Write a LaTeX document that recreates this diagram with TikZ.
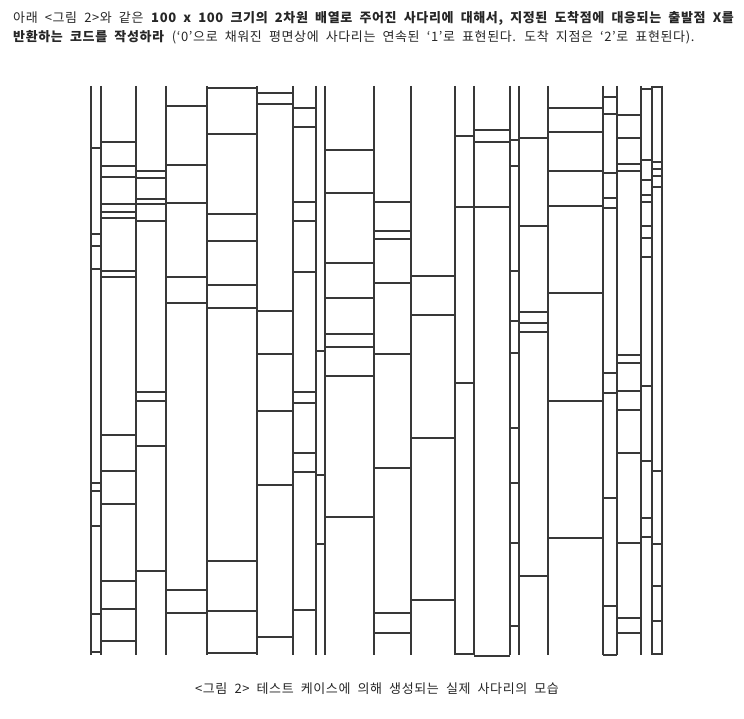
\documentclass[tikz,border=0pt]{standalone}
\usepackage{fontspec}
\setmainfont{Noto Sans CJK KR}[WordSpace=2,LetterSpace=4.8]

\begin{document}
\begin{tikzpicture}[x=1pt,y=-1pt,
  rail/.style={draw=black!78,line width=1.6pt},
  rung/.style={draw=black!78,line width=1.6pt},
  textline/.style={font=\fontsize{13}{15}\selectfont,text=black!85,anchor=base west,inner sep=0pt}]
  \useasboundingbox (0,0) rectangle (744,719);
  % question text
  \node[textline] (line1) at (13,23) {아래 <그림 2>와 같은 \textbf{100 x 100 크기의 2차원 배열로 주어진 사다리에 대해서, 지정된 도착점에 대응되는 출발점 X를}};
  \node[textline] (line2) at (13,42) {\textbf{반환하는 코드를 작성하라} (‘0’으로 채워진 평면상에 사다리는 연속된 ‘1’로 표현된다. 도착 지점은 ‘2’로 표현된다).};
  % rails
  \foreach \x in {91,101,136,166,207,257,293,316,325,374,411,455,474,510,519,548,603,617,641,652,662}
    \draw[rail] (\x,86) -- (\x,655);
  % rungs, gap by gap
  \foreach \l/\r/\ys in {
      91/101/{148,234,246,269,483,491,526,614,652},
      101/136/{142,166,177,204,212,218,271,277,435,471,504,581,609,641},
      136/166/{171,178,199,204,221,392,401,446,571},
      166/207/{106,165,203,277,303,590,613},
      207/257/{88,134,214,241,285,308,561,611,653},
      257/293/{93,104,311,354,411,485,637},
      293/316/{108,127,202,221,272,392,403,453,472,610},
      316/325/{351,475,544},
      325/374/{150,193,263,298,334,347,376,517},
      374/411/{202,231,239,283,354,468,613,633},
      411/455/{276,315,438,600},
      455/474/{136,207,383,654},
      474/510/{130,142,207,656},
      510/519/{140,166,271,321,353,428,483,543,626},
      519/548/{138,226,312,323,332,576},
      548/603/{108,132,171,206,293,401,538},
      603/617/{97,114,173,198,208,373,393,498,606,655},
      617/641/{115,138,164,171,355,363,391,410,453,543,618,633},
      641/652/{89,160,180,195,202,226,238,257,386,461,518,537},
      652/662/{87,162,169,176,187,471,544,586,621,654}}
    \foreach \y in \ys
      \draw[rung] (\l,\y) -- (\r,\y);
  % caption
  \node[textline,anchor=base] (caption) at (377,693) {<그림 2> 테스트 케이스에 의해 생성되는 실제 사다리의 모습};
\end{tikzpicture}
\end{document}
